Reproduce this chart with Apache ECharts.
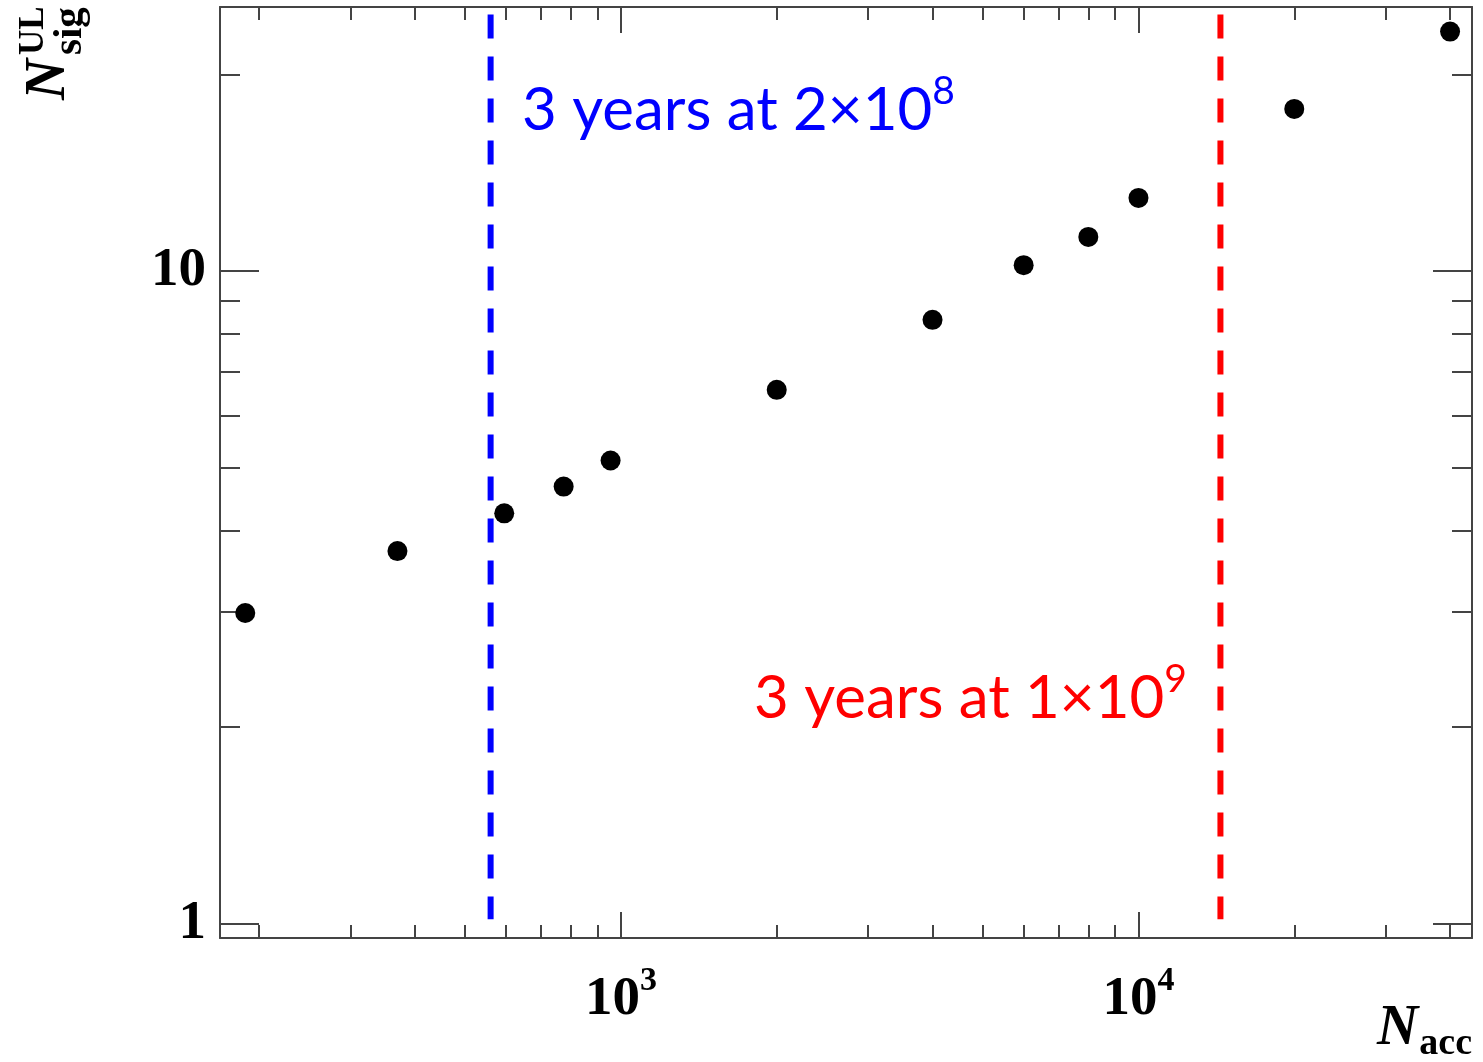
<!DOCTYPE html>
<html>
<head>
<meta charset="utf-8">
<script src="https://cdn.jsdelivr.net/npm/echarts@6.0.0/dist/echarts.min.js"></script>
<style>
html, body { margin: 0; padding: 0; background: #fff; }
#chart { width: 1483px; height: 1062px; }
</style>
</head>
<body>
<div id="chart"></div>
<script>
'use strict';

// upper limit on N_sig vs N_acc
const arrNacc = [188, 370, 595, 775, 955, 2000, 4000, 6000, 8000, 10000, 20000, 40000];
const arrNsig = [2.99, 3.72, 4.25, 4.67, 5.12, 6.57, 8.41, 10.2, 11.27, 12.93, 17.7, 23.25];

// vertical dashed lines: 3 years at 2x10^8 and at 1x10^9
const arrLineX = [560, 14400];
const arrLineY = [24.7, 1.015];
const arrLineColor = ['#0000ff', '#ff0000'];

// axis ranges and ticks
const xRange = [168, 44100];
const yRange = [0.95, 25.36];
const xMajor = [1000, 10000];
const xMinor = [200, 300, 400, 500, 600, 700, 800, 900, 2000, 3000, 4000, 5000, 6000, 7000, 8000, 9000, 20000, 30000, 40000];
const yMajor = [1, 10];
const yMinor = [2, 3, 4, 5, 6, 7, 8, 9, 20];

const chart = echarts.init(document.getElementById('chart'), null, { renderer: 'canvas' });

const axisColor = '#444';
const serif = '"Liberation Serif", "Times New Roman", serif';
const sans = 'Lato, "Noto Sans", sans-serif';

const makeAxis = (pos, range, ticks, len, withLine, label) => ({
    type: 'log',
    position: pos,
    min: range[0],
    max: range[1],
    axisLine: { show: withLine, onZero: false, lineStyle: { color: axisColor, width: 2 } },
    axisTick: { show: true, inside: true, length: len, customValues: ticks, lineStyle: { color: axisColor, width: 2 } },
    axisLabel: label || { show: false },
    splitLine: { show: false },
    axisPointer: { show: false }
});

const xLabel = {
    show: true,
    customValues: xMajor,
    margin: 26,
    formatter: (v) => `{b|10}{s|${Math.round(Math.log10(v))}}`,
    rich: {
        b: { fontFamily: serif, fontWeight: 'bold', fontSize: 55, color: '#000', padding: [8, 0, 0, 0] },
        s: { fontFamily: serif, fontWeight: 'bold', fontSize: 34, color: '#000', verticalAlign: 'top' }
    }
};

const yLabel = {
    show: true,
    customValues: yMajor,
    margin: 14,
    formatter: (v) => String(Math.round(v)),
    fontFamily: serif,
    fontWeight: 'bold',
    fontSize: 55,
    color: '#000'
};

const xAxes = [
    makeAxis('bottom', xRange, xMajor, 26, true, xLabel),
    makeAxis('bottom', xRange, xMinor, 13, false),
    makeAxis('top', xRange, xMajor, 26, true),
    makeAxis('top', xRange, xMinor, 13, false)
];
const yAxes = [
    makeAxis('left', yRange, yMajor, 39, true, yLabel),
    makeAxis('left', yRange, yMinor, 20, false),
    makeAxis('right', yRange, yMajor, 39, true),
    makeAxis('right', yRange, yMinor, 20, false)
];

const arrSeries = [{
    type: 'scatter',
    xAxisIndex: 0,
    yAxisIndex: 0,
    symbol: 'circle',
    symbolSize: 20,
    itemStyle: { color: '#000', opacity: 1 },
    data: arrNacc.map((x, i) => [x, arrNsig[i]]),
    z: 5
}];
arrLineX.forEach((x, i) => {
    arrSeries.push({
        type: 'line',
        xAxisIndex: 0,
        yAxisIndex: 0,
        symbol: 'none',
        lineStyle: { color: arrLineColor[i], width: 6, type: [24, 18] },
        data: arrLineY.map(y => [x, y]),
        z: 3
    });
});

const noteRich = (color) => ({
    m: { fontFamily: sans, fontSize: 60, fill: color, padding: [9, 0, 0, 0] },
    s: { fontFamily: sans, fontSize: 39, fill: color, verticalAlign: 'top' }
});

const option = {
    animation: false,
    backgroundColor: '#fff',
    grid: { left: 220, top: 7, right: 11, bottom: 124, containLabel: false },
    xAxis: xAxes,
    yAxis: yAxes,
    series: arrSeries,
    graphic: [
        {
            type: 'text', x: 522, y: 72, z: 10,
            style: { text: '{m|3 years at 2×10}{s|8}', rich: noteRich('#0000ff'), verticalAlign: 'top' }
        },
        {
            type: 'text', x: 754, y: 660, z: 10,
            style: { text: '{m|3 years at 1×10}{s|9}', rich: noteRich('#ff0000'), verticalAlign: 'top' }
        },
        // y title, rotated
        {
            type: 'group', x: 68, y: 100, rotation: Math.PI / 2,
            children: [
                { type: 'text', x: 0, y: -19, style: { text: 'N', font: `italic bold 57px ${serif}`, fill: '#000', verticalAlign: 'middle' } },
                { type: 'text', x: 45, y: -34, style: { text: 'UL', font: `bold 35px ${serif}`, fill: '#000', verticalAlign: 'middle' } },
                { type: 'text', x: 45, y: 2, style: { text: 'sig', font: `bold 41px ${serif}`, fill: '#000', verticalAlign: 'middle' } }
            ]
        },
        // x title
        { type: 'text', x: 1377, y: 1029, style: { text: 'N', font: `italic bold 57px ${serif}`, fill: '#000', verticalAlign: 'middle' } },
        { type: 'text', x: 1472, y: 1044, style: { text: 'acc', font: `bold 38px ${serif}`, fill: '#000', align: 'right', verticalAlign: 'middle' } }
    ]
};

chart.setOption(option);
</script>
</body>
</html>
